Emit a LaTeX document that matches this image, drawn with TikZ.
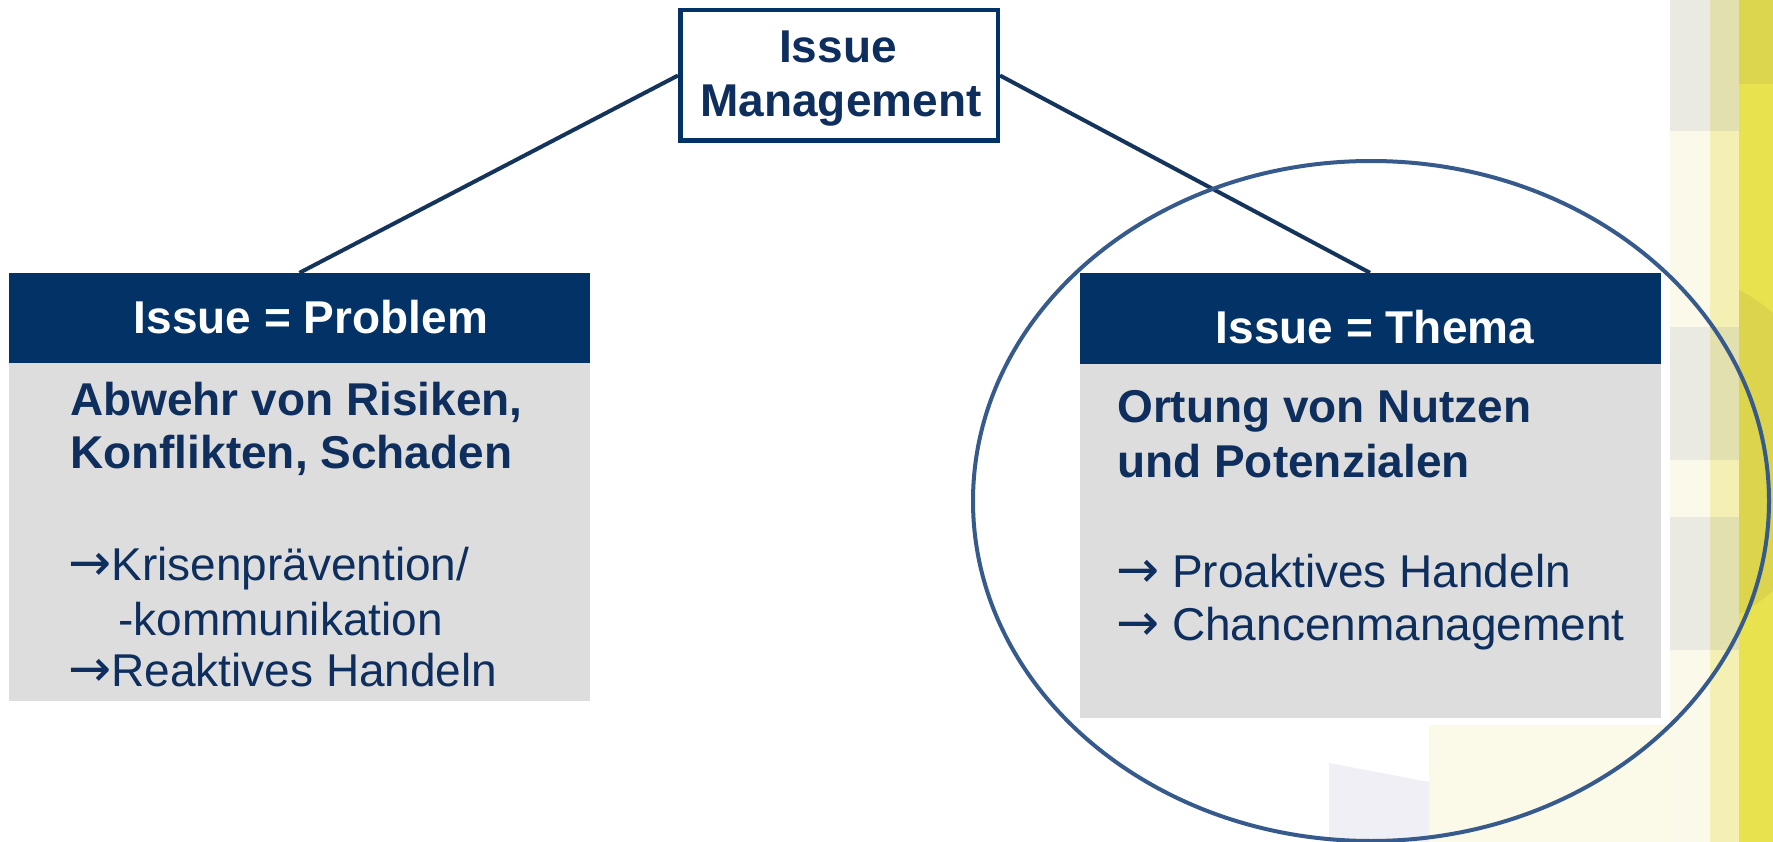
\documentclass[tikz,border=0pt]{standalone}
\usepackage{fontspec}
\usepackage{graphicx}
\setmainfont{Liberation Sans}
\newfontfamily\arrowfont{DejaVu Sans}
\newcommand\toarrow{\scalebox{1.12}{\arrowfont →}}
\definecolor{navy}{RGB}{3,51,102}
\definecolor{inkblue}{RGB}{14,46,94}
\definecolor{linkblue}{RGB}{20,52,92}
\definecolor{bodygray}{RGB}{221,221,221}
\definecolor{ringblue}{RGB}{55,90,140}
\definecolor{stoneA}{RGB}{234,234,224}
\definecolor{creamA}{RGB}{251,250,234}
\definecolor{stoneB}{RGB}{226,224,174}
\definecolor{creamB}{RGB}{244,240,180}
\definecolor{yelDark}{RGB}{220,214,78}
\definecolor{yelBright}{RGB}{232,226,78}
\definecolor{yelDisk}{RGB}{220,212,76}
\definecolor{paleYellow}{RGB}{251,249,232}
\definecolor{paleBlue}{RGB}{239,239,245}
\begin{document}
\begin{tikzpicture}[x=1pt,y=-1pt,
  txt/.style={inner sep=0pt,anchor=base west,text=inkblue,font=\fontsize{46}{54}\selectfont},
  btxt/.style={txt,font=\fontsize{46}{54}\selectfont\bfseries},
  headtxt/.style={inner sep=0pt,anchor=base,text=white,font=\fontsize{46}{54}\selectfont\bfseries},
  toptxt/.style={inner sep=0pt,anchor=base,text=inkblue,font=\fontsize{46}{54}\selectfont\bfseries},
  topbox/.style={draw=navy,line width=4.5pt,fill=white,minimum width=317.5pt,minimum height=130.5pt,inner sep=0pt},
  headbox/.style={fill=navy,draw=none,minimum width=581pt,inner sep=0pt},
  bodybox/.style={fill=bodygray,draw=none,minimum width=581pt,inner sep=0pt},
  link/.style={draw=linkblue,line width=4pt}]

% canvas
\useasboundingbox (0,0) rectangle (1773,842);
\fill[white] (0,0) rectangle (1773,842);

% decorative stripes along the right edge
\fill[stoneA] (1670,0) rectangle (1710,131);
\fill[creamA] (1670,131) rectangle (1710,327);
\fill[stoneA] (1670,327) rectangle (1710,460);
\fill[creamA] (1670,460) rectangle (1710,517);
\fill[stoneA] (1670,517) rectangle (1710,650);
\fill[creamA] (1670,650) rectangle (1710,842);
\fill[stoneB] (1710,0) rectangle (1739,131);
\fill[creamB] (1710,131) rectangle (1739,327);
\fill[stoneB] (1710,327) rectangle (1739,460);
\fill[creamB] (1710,460) rectangle (1739,517);
\fill[stoneB] (1710,517) rectangle (1739,650);
\fill[creamB] (1710,650) rectangle (1739,842);
\fill[yelDark] (1739,0) rectangle (1773,84);
\fill[yelBright] (1739,84) rectangle (1773,842);
\begin{scope}
  \clip (1739,0) rectangle (1773,842);
  \fill[yelDisk] (1654,452) circle (183pt);
\end{scope}

% pale shapes at the bottom
\fill[paleYellow] (1429,725) rectangle (1670,842);
\fill[paleBlue] (1329,763) -- (1429,782) -- (1429,842) -- (1329,842) -- cycle;

% top box
\node[topbox] (im) at (839,75.5) {};
\node[toptxt] (imA) at (838,63) {Issue};
\node[toptxt] (imB) at (841,117) {Management};

% left column
\node[headbox,minimum height=90pt] (lh) at (299.5,318) {};
\node[bodybox,minimum height=338pt] (lb) at (299.5,532) {};
\node[headtxt] (lhT) at (311,334) {Issue = Problem};
\node[btxt] (l1) at (70,415) {Abwehr von Risiken,};
\node[btxt] (l2) at (70,468) {Konflikten, Schaden};
\node[txt] (l3) at (68,580) {\toarrow Krisenprävention/};
\node[txt] (l4) at (118,635) {-kommunikation};
\node[txt] (l5) at (68,686) {\toarrow Reaktives Handeln};

% right column
\node[headbox,minimum height=91pt] (rh) at (1370,318.5) {};
\node[bodybox,minimum height=354pt] (rb) at (1370,541) {};
\node[headtxt] (rhT) at (1375,344) {Issue = Thema};
\node[btxt] (r1) at (1117,422) {Ortung von Nutzen};
\node[btxt] (r2) at (1117,477) {und Potenzialen};
\node[txt] (r3) at (1116,587) {\toarrow{} Proaktives Handeln};
\node[txt] (r4) at (1116,640) {\toarrow{} Chancenmanagement};

% connectors
\draw[link] (im.west) -- (lh.north);
\draw[link] (im.east) -- (rh.north);

% highlight ring
\draw[ringblue,line width=4pt] (1371,501) ellipse [x radius=398pt, y radius=340pt];

\end{tikzpicture}
\end{document}
